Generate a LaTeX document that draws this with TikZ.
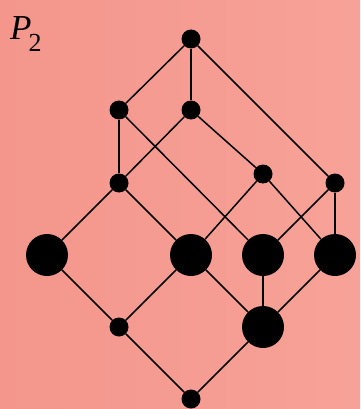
\documentclass[tikz,border=0pt]{standalone}
\usepackage{tikz}
\usetikzlibrary{positioning,backgrounds}
\usepackage{xcolor}
\usepackage{fontspec}
\newfontfamily\timesfont{Liberation Serif}
\definecolor{bgleft}{RGB}{244,150,140}
\definecolor{bgright}{RGB}{247,162,152}

\begin{document}
\begin{tikzpicture}[
    x=1pt, y=-1pt,
    small/.style={circle, fill=black, inner sep=0pt, minimum size=19pt},
    big/.style={circle, fill=black, inner sep=0pt, minimum size=42pt},
    edge/.style={line width=1.5pt, black},
]
\shade[left color=bgleft, right color=bgright] (0,0) rectangle (360,409);
\useasboundingbox (0,0) rectangle (360,409);

\node[inner sep=0pt, anchor=base west] (label) at (10,40)
  {\timesfont\fontsize{35}{40}\selectfont\itshape P\hspace{-3pt}\raisebox{-12pt}{\upshape\fontsize{26}{30}\selectfont 2}};

% top
\node[small] (top) at (191,39) {};
% second row
\node[small] (a1) at (119,110) {};
\node[small] (a2) at (191,110) {};
% third row
\node[small] (b1) at (119,183) {};
\node[small] (b2) at (263,174) {};
\node[small] (b3) at (335,183) {};
% middle row
\node[big] (c1) at (47,255) {};
\node[big] (c2) at (191,255) {};
\node[big] (c3) at (263,255) {};
\node[big] (c4) at (335,255) {};
% lower row
\node[small] (d1) at (119,327) {};
\node[big] (d2) at (263,327) {};
% bottom
\node[small] (bot) at (191,399) {};

\draw[edge] (top) -- (a1);
\draw[edge] (top) -- (a2);
\draw[edge] (top) -- (b3);
\draw[edge] (a1) -- (b1);
\draw[edge] (a1) -- (c3);
\draw[edge] (a2) -- (b1);
\draw[edge] (a2) -- (b2);
\draw[edge] (b1) -- (c1);
\draw[edge] (b1) -- (c2);
\draw[edge] (b2) -- (c2);
\draw[edge] (b2) -- (c4);
\draw[edge] (b3) -- (c3);
\draw[edge] (b3) -- (c4);
\draw[edge] (c1) -- (d1);
\draw[edge] (c2) -- (d1);
\draw[edge] (c2) -- (d2);
\draw[edge] (c3) -- (d2);
\draw[edge] (c4) -- (d2);
\draw[edge] (d1) -- (bot);
\draw[edge] (d2) -- (bot);
\end{tikzpicture}
\end{document}
